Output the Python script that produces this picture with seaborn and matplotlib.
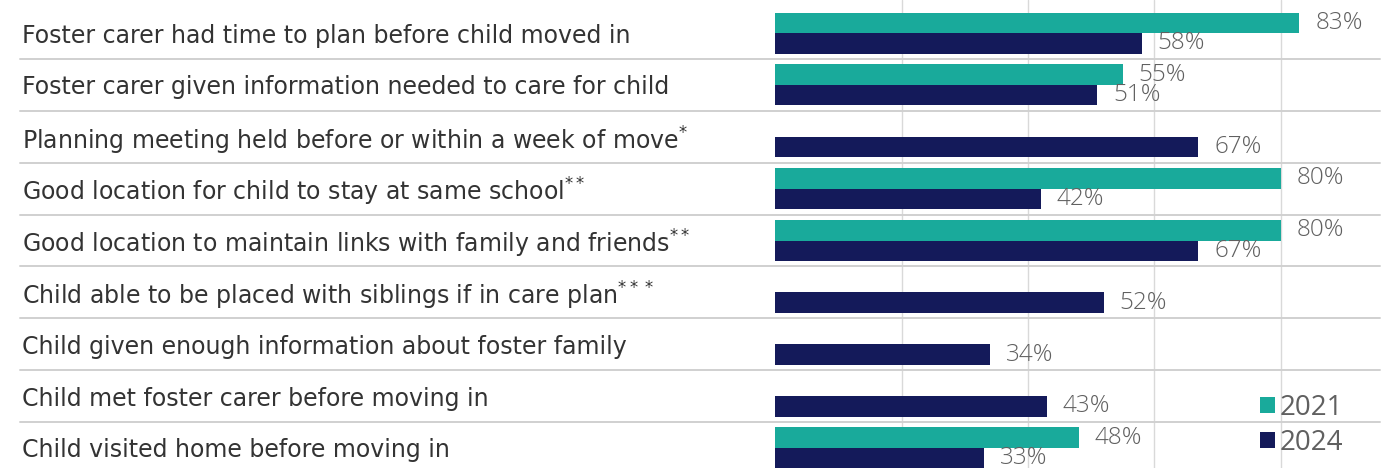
import numpy as np
import pandas as pd
import matplotlib
matplotlib.use("Agg")
import matplotlib.pyplot as plt
import seaborn as sns

categories = [
    "Foster carer had time to plan before child moved in",
    "Foster carer given information needed to care for child",
    "Planning meeting held before or within a week of move$^{*}$",
    "Good location for child to stay at same school$^{**}$",
    "Good location to maintain links with family and friends$^{**}$",
    "Child able to be placed with siblings if in care plan$^{***}$",
    "Child given enough information about foster family",
    "Child met foster carer before moving in",
    "Child visited home before moving in",
]
values_2021 = [83, 55, np.nan, 80, 80, np.nan, np.nan, np.nan, 48]
values_2024 = [58, 51, 67, 42, 67, 52, 34, 43, 33]
years = ["2021", "2024"]
palette = {"2021": "#19aa9b", "2024": "#141a5a"}

df = pd.DataFrame({
    "category": categories * 2,
    "year": [years[0]] * len(categories) + [years[1]] * len(categories),
    "value": values_2021 + values_2024,
}).dropna()

sns.set_theme(style="white")
plt.rcParams["font.family"] = ["Open Sans", "DejaVu Sans"]
plt.rcParams["mathtext.fontset"] = "dejavusans"

W, H = 1399, 468
fig = plt.figure(figsize=(W / 100, H / 100), dpi=100)
ax_left, ax_right = 775.5, 1380
ax = fig.add_axes([ax_left / W, 0, (ax_right - ax_left) / W, 1])

sns.barplot(data=df, x="value", y="category", hue="year", order=categories,
            hue_order=years, palette=palette, orient="h", width=0.79,
            saturation=1, edgecolor="none", linewidth=0, errorbar=None,
            legend=True, ax=ax, zorder=3)

ax.set_xlim(0, (ax_right - ax_left) / 6.3125)
ax.set_ylim(8.386, -0.638)
ax.set_xticks([20, 40, 60, 80])
ax.xaxis.grid(True, color="#d9d9d9", linewidth=1.0, zorder=0)
ax.yaxis.grid(False)
ax.set_axisbelow(True)
ax.tick_params(axis="x", length=0, labelbottom=False)
ax.tick_params(axis="y", length=0, pad=(ax_left - 22) * 0.72)
for lab in ax.get_yticklabels():
    lab.set_ha("left")
    lab.set_fontfamily(["DejaVu Sans"])
    lab.set_fontsize(17)
    lab.set_color("#333333")
ax.set_xlabel("")
ax.set_ylabel("")
for s in ax.spines.values():
    s.set_visible(False)

# row separators running under the labels and across the bars
x0 = (20 - ax_left) / (ax_right - ax_left)
for i in range(len(categories) - 1):
    ax.axhline(i + 0.5, xmin=x0, xmax=1, color="#d0d0d0", linewidth=1.4,
               clip_on=False, zorder=1)

for cont in ax.containers:
    ax.bar_label(cont, fmt="%d%%", padding=11.5, fontsize=17.5,
                 color="#606060", fontweight="light")

handles, labels = ax.get_legend_handles_labels()
ax.legend(handles, labels, loc="upper left", frameon=False, fontsize=20,
          bbox_to_anchor=(1246 / W, 1 - 380 / H), bbox_transform=fig.transFigure,
          handlelength=0.55, handleheight=0.55, handletextpad=0.15,
          labelspacing=0.25, borderpad=0, labelcolor="#606060")

fig.savefig("out.png", dpi=100)
